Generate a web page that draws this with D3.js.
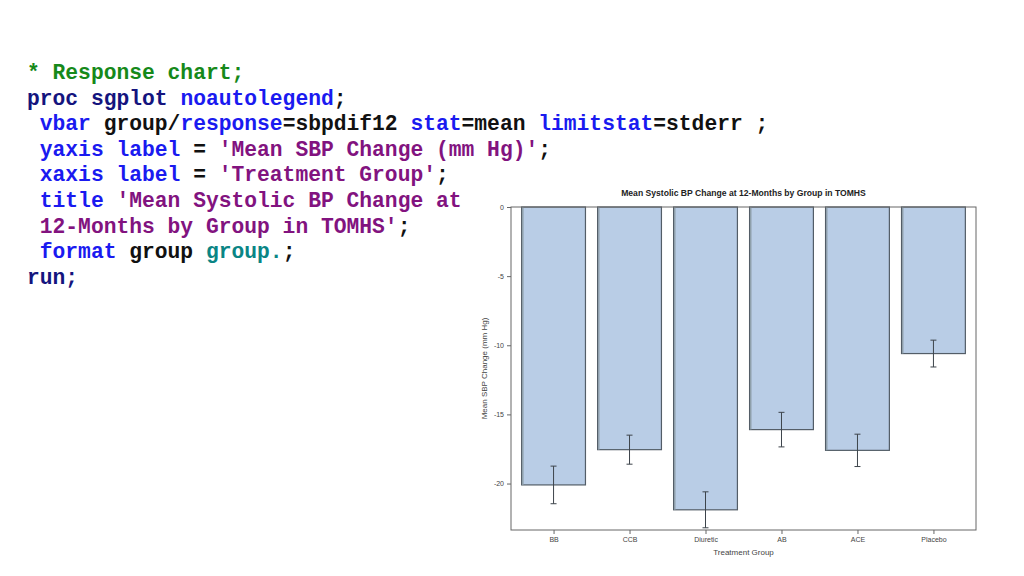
<!DOCTYPE html>
<html>
<head>
<meta charset="utf-8">
<script src="https://cdn.jsdelivr.net/npm/d3@7"></script>
<style>
  body { margin: 0; background: #fff; }
  svg { display: block; }
</style>
</head>
<body>
<div id="chart"></div>
<script>
// Chart data
const groups = ["BB", "CCB", "Diuretic", "AB", "ACE", "Placebo"]
const meanChange = [-20.1, -17.55, -21.9, -16.1, -17.6, -10.6]
const stdErr = [1.36, 1.05, 1.3, 1.25, 1.17, 0.97]
const yTicks = [0, -5, -10, -15, -20]

const chartTitle = "Mean Systolic BP Change at 12-Months by Group in TOMHS"
const yLabel = "Mean SBP Change (mm Hg)"
const xLabel = "Treatment Group"

// SAS code on the left, as [text, colour] tokens per line
const GREEN = "#16891a", NAVY = "#14147e", BLUE = "#1a1af0", BLACK = "#111", PURPLE = "#82137f", TEAL = "#0a8585"
const codeLines = [
  [["* Response chart;", GREEN]],
  [["proc sgplot ", NAVY], ["noautolegend", BLUE], [";", BLACK]],
  [[" vbar", BLUE], [" group/", BLACK], ["response", BLUE], ["=sbpdif12 ", BLACK], ["stat", BLUE], ["=mean ", BLACK], ["limitstat", BLUE], ["=stderr ;", BLACK]],
  [[" yaxis label", BLUE], [" = ", BLACK], ["'Mean SBP Change (mm Hg)'", PURPLE], [";", BLACK]],
  [[" xaxis label", BLUE], [" = ", BLACK], ["'Treatment Group'", PURPLE], [";", BLACK]],
  [[" title ", BLUE], ["'Mean Systolic BP Change at", PURPLE]],
  [[" 12-Months by Group in TOMHS'", PURPLE], [";", BLACK]],
  [[" format", BLUE], [" group ", BLACK], ["group.", TEAL], [";", BLACK]],
  [["run;", NAVY]]
]

const width = 1024, height = 576
const svg = d3.select("#chart").append("svg")
  .attr("width", width)
  .attr("height", height)

// Code block
const code = svg.append("g")
  .attr("font-family", "'Liberation Mono', 'Courier New', monospace")
  .attr("font-weight", "bold")
  .attr("font-size", 21.3)

codeLines.forEach((line, i) => {
  const t = code.append("text")
    .attr("x", 27)
    .attr("y", 79 + i * 25.6)
    .attr("xml:space", "preserve")
    .style("white-space", "pre")
  line.forEach(([txt, col]) => {
    t.append("tspan").attr("fill", col).text(txt)
  })
})

// Plot area
const plot = { left: 511, right: 976, top: 207, bottom: 530 }

const y = d3.scaleLinear()
  .domain([0, -23.36])
  .range([plot.top, plot.bottom])

const x = d3.scalePoint()
  .domain(groups)
  .range([plot.left, plot.right])
  .padding(0.56)

const barW = x.step() * 0.84
const axisGrey = "#666"
const textGrey = "#444"
const font = "Arial, 'Liberation Sans', sans-serif"

// Title
svg.append("text")
  .attr("x", (plot.left + plot.right) / 2)
  .attr("y", 196)
  .attr("text-anchor", "middle")
  .attr("font-family", font)
  .attr("font-weight", "bold")
  .attr("font-size", 8.6)
  .attr("fill", "#222")
  .text(chartTitle)

// Bars
const bars = svg.append("g")
groups.forEach((g, i) => {
  bars.append("rect")
    .attr("x", x(g) - barW / 2)
    .attr("y", y(0))
    .attr("width", barW)
    .attr("height", y(meanChange[i]) - y(0))
    .attr("fill", "#b9cde6")
    .attr("stroke", "#535d67")
    .attr("stroke-width", 1.2)
  // lighter shade on the left edge
  bars.append("line")
    .attr("x1", x(g) - barW / 2 + 1.2)
    .attr("x2", x(g) - barW / 2 + 1.2)
    .attr("y1", y(0))
    .attr("y2", y(meanChange[i]))
    .attr("stroke", "#8e9ea9")
    .attr("stroke-width", 1.4)
})

// Error bars (mean +/- stderr)
const errs = svg.append("g")
  .attr("stroke", "#3d444b")
  .attr("stroke-width", 1)
groups.forEach((g, i) => {
  const cx = x(g)
  const hi = meanChange[i] + stdErr[i]
  const lo = meanChange[i] - stdErr[i]
  errs.append("line").attr("x1", cx).attr("x2", cx).attr("y1", y(hi)).attr("y2", y(lo))
  errs.append("line").attr("x1", cx - 3).attr("x2", cx + 3).attr("y1", y(hi)).attr("y2", y(hi))
  errs.append("line").attr("x1", cx - 3).attr("x2", cx + 3).attr("y1", y(lo)).attr("y2", y(lo))
})

// Frame
svg.append("rect")
  .attr("x", plot.left)
  .attr("y", plot.top)
  .attr("width", plot.right - plot.left)
  .attr("height", plot.bottom - plot.top)
  .attr("fill", "none")
  .attr("stroke", axisGrey)
  .attr("stroke-width", 1)

// Y axis (plain hyphen for negatives, as SAS prints them)
const yAxis = svg.append("g")
  .attr("transform", `translate(${plot.left},0)`)
  .call(d3.axisLeft(y).tickValues(yTicks).tickSize(4).tickPadding(3).tickFormat(d => String(d)))
yAxis.select(".domain").remove()
yAxis.selectAll(".tick line").attr("stroke", axisGrey)
yAxis.selectAll(".tick text")
  .attr("fill", textGrey)
  .attr("font-family", font)
  .attr("font-size", 7)

// X axis
const xAxis = svg.append("g")
  .attr("transform", `translate(0,${plot.bottom})`)
  .call(d3.axisBottom(x).tickSize(4).tickPadding(3))
xAxis.select(".domain").remove()
xAxis.selectAll(".tick line").attr("stroke", axisGrey)
xAxis.selectAll(".tick text")
  .attr("fill", textGrey)
  .attr("font-family", font)
  .attr("font-size", 7)

// Axis labels
svg.append("text")
  .attr("x", (plot.left + plot.right) / 2)
  .attr("y", 555)
  .attr("text-anchor", "middle")
  .attr("font-family", font)
  .attr("font-size", 8)
  .attr("fill", textGrey)
  .text(xLabel)

svg.append("text")
  .attr("transform", `translate(487,${(plot.top + plot.bottom) / 2}) rotate(-90)`)
  .attr("text-anchor", "middle")
  .attr("font-family", font)
  .attr("font-size", 8)
  .attr("fill", textGrey)
  .text(yLabel)
</script>
</body>
</html>
